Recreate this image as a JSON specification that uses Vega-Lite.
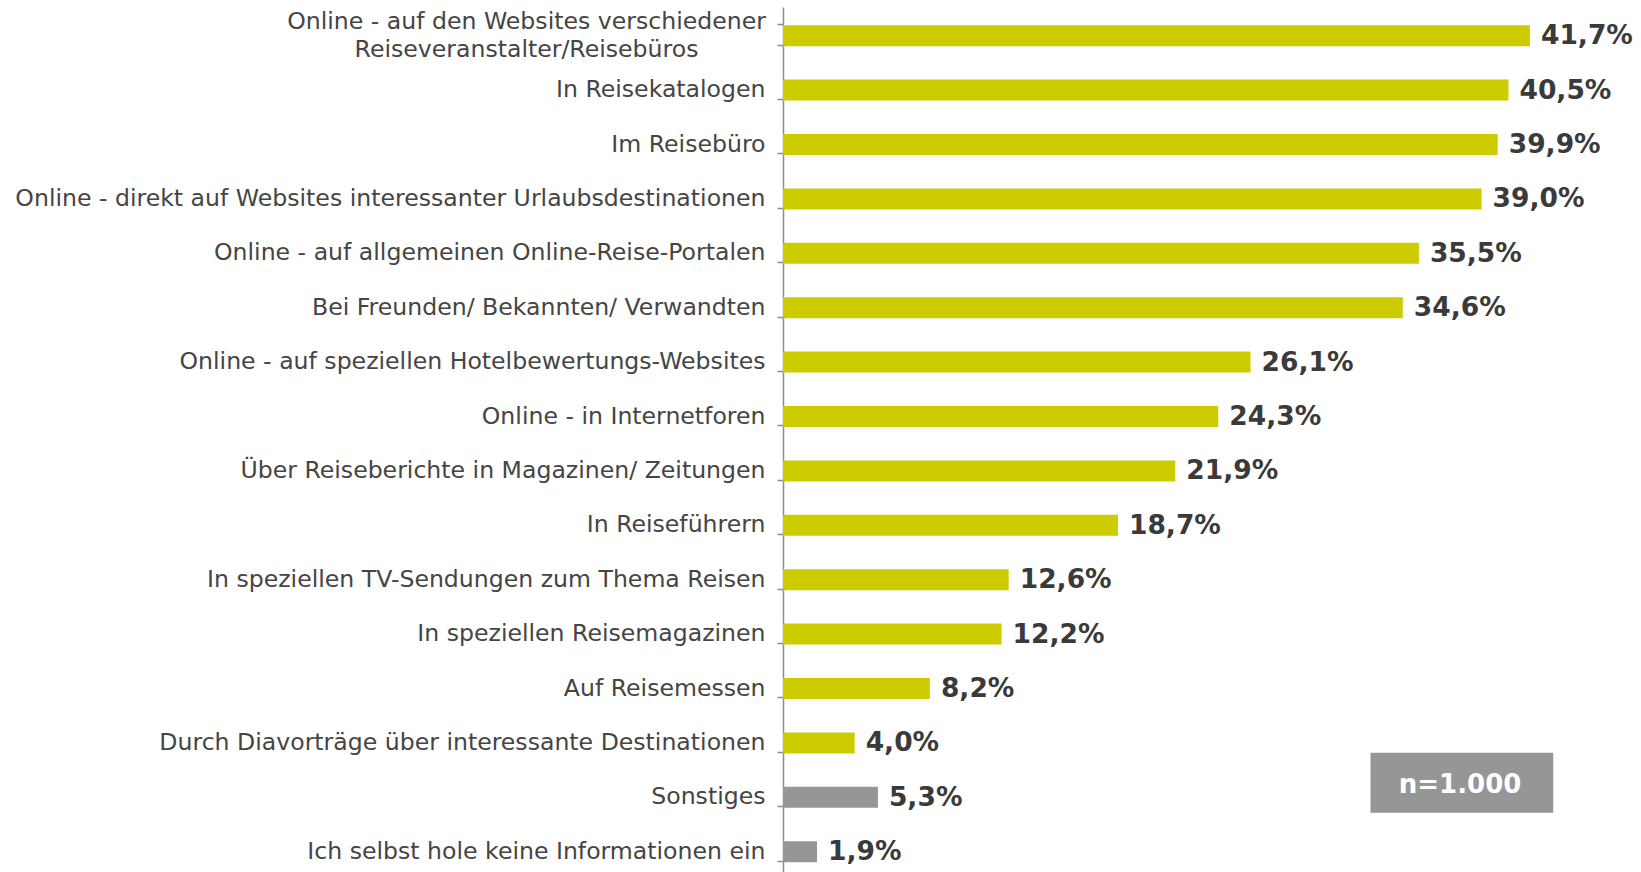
{
  "$schema": "https://vega.github.io/schema/vega-lite/v6.json",
  "width": 858,
  "height": 865,
  "autosize": {"type": "none"},
  "padding": {"left": 783, "top": 7, "right": 0, "bottom": 0},
  "background": "white",
  "config": {"view": {"stroke": null}, "font": "DejaVu Sans"},
  "datasets": {
    "main": [
      {"cat": "Online - auf den Websites verschiedener Reiseveranstalter/Reisebüros", "v": 41.7, "group": "main"},
      {"cat": "In Reisekatalogen", "v": 40.5, "group": "main"},
      {"cat": "Im Reisebüro", "v": 39.9, "group": "main"},
      {"cat": "Online - direkt auf Websites interessanter Urlaubsdestinationen", "v": 39.0, "group": "main"},
      {"cat": "Online - auf allgemeinen Online-Reise-Portalen", "v": 35.5, "group": "main"},
      {"cat": "Bei Freunden/ Bekannten/ Verwandten", "v": 34.6, "group": "main"},
      {"cat": "Online - auf speziellen Hotelbewertungs-Websites", "v": 26.1, "group": "main"},
      {"cat": "Online - in Internetforen", "v": 24.3, "group": "main"},
      {"cat": "Über Reiseberichte in Magazinen/ Zeitungen", "v": 21.9, "group": "main"},
      {"cat": "In Reiseführern", "v": 18.7, "group": "main"},
      {"cat": "In speziellen TV-Sendungen zum Thema Reisen", "v": 12.6, "group": "main"},
      {"cat": "In speziellen Reisemagazinen", "v": 12.2, "group": "main"},
      {"cat": "Auf Reisemessen", "v": 8.2, "group": "main"},
      {"cat": "Durch Diavorträge über interessante Destinationen", "v": 4.0, "group": "main"},
      {"cat": "Sonstiges", "v": 5.3, "group": "other"},
      {"cat": "Ich selbst hole keine Informationen ein", "v": 1.9, "group": "other"}
    ],
    "note": [{"note": "n=1.000"}]
  },
  "layer": [
    {
      "data": {"name": "main"},
      "mark": {"type": "bar", "yOffset": 1.5},
      "encoding": {
        "y": {
          "field": "cat", "type": "nominal", "sort": null,
          "scale": {"range": [0, 870.4], "paddingInner": 0.614, "paddingOuter": 0.307},
          "axis": {
            "title": null,
            "labelFontSize": 23.6,
            "labelColor": "#454545",
            "labelFont": "DejaVu Sans",
            "labelLimit": 900,
            "labelPadding": {"condition": {"test": "datum.value == 'Online - auf den Websites verschiedener Reiseveranstalter/Reisebüros'", "value": 251}, "value": 12},
            "labelAlign": {"condition": {"test": "datum.value == 'Online - auf den Websites verschiedener Reiseveranstalter/Reisebüros'", "value": "center"}, "value": "right"},
            "labelLineHeight": 28,
            "labelOffset": {"condition": {"test": "datum.value == 'Online - auf den Websites verschiedener Reiseveranstalter/Reisebüros'", "value": -13}, "value": 1},
            "tickSize": 6,
            "tickBand": "extent",
            "tickColor": "#8c8c8c",
            "tickWidth": 1.5,
            "domainColor": "#8c8c8c",
            "domainWidth": 1.5,
            "grid": false,
            "labelExpr": "datum.value == 'Online - auf den Websites verschiedener Reiseveranstalter/Reisebüros' ? ['Online - auf den Websites verschiedener', 'Reiseveranstalter/Reisebüros'] : datum.value"
          }
        },
        "x": {"field": "v", "type": "quantitative", "scale": {"domain": [0, 47.9], "nice": false, "zero": true}, "axis": null},
        "color": {"field": "group", "type": "nominal", "scale": {"domain": ["main", "other"], "range": ["#cccc00", "#969696"]}, "legend": null}
      }
    },
    {
      "data": {"name": "main"},
      "transform": [{"calculate": "replace(format(datum.v, '.1f'), '.', ',') + '%'", "as": "label"}],
      "mark": {"type": "text", "align": "left", "baseline": "middle", "dx": 11, "dy": 2, "fontSize": 26.5, "fontWeight": "bold", "color": "#3a3a3a"},
      "encoding": {
        "y": {"field": "cat", "type": "nominal", "sort": null},
        "x": {"field": "v", "type": "quantitative"},
        "text": {"field": "label"}
      }
    },
    {
      "data": {"name": "note"},
      "mark": {"type": "bar", "size": 60, "yOffset": -13, "color": "#969696"},
      "encoding": {
        "y": {"datum": "Sonstiges", "type": "nominal"},
        "x": {"datum": 32.8, "type": "quantitative"},
        "x2": {"datum": 43.0}
      }
    },
    {
      "data": {"name": "note"},
      "mark": {"type": "text", "align": "center", "baseline": "middle", "dy": -11, "fontSize": 26, "fontWeight": "bold", "color": "white"},
      "encoding": {
        "y": {"datum": "Sonstiges", "type": "nominal"},
        "x": {"datum": 37.8, "type": "quantitative"},
        "text": {"field": "note"}
      }
    }
  ]
}
